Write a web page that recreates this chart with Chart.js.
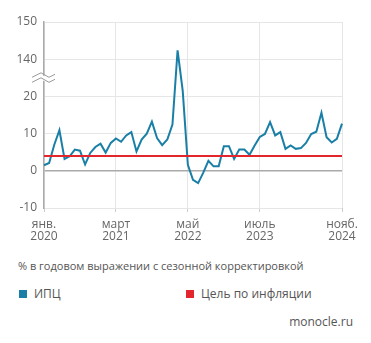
<!DOCTYPE html>
<html>
<head>
<meta charset="utf-8">
<script src="https://cdn.jsdelivr.net/npm/chart.js@4.4.1/dist/chart.umd.min.js"></script>
<style>
  body { margin: 0; background: #fff; font-family: "Open Sans", sans-serif; }
  #wrap { position: relative; width: 371px; height: 343px; }
  #chart-box { position: absolute; left: 0; top: 0; width: 371px; height: 252px; }
  .note { position: absolute; color: #555; font-size: 11px; white-space: nowrap; }
  .sq { display: inline-block; width: 8px; height: 8px; margin-right: 7px; vertical-align: 0px; }
</style>
</head>
<body>
<div id="wrap">
  <div id="chart-box"><canvas id="myChart"></canvas></div>
  <div class="note" style="left:18px; top:258px;">% в годовом выражении с сезонной корректировкой</div>
  <div class="note" style="left:19px; top:285px; font-size:12px;"><span class="sq" style="background:#1a7fa6"></span>ИПЦ</div>
  <div class="note" style="left:186px; top:285px; font-size:12px;"><span class="sq" style="background:#e3262b"></span>Цель по инфляции</div>
  <div class="note" style="right:18px; top:313px; font-size:12px;">monocle.ru</div>
</div>
<script>
// monthly, Jan 2020 .. Nov 2024
const months = ['янв.', 'февр.', 'март', 'апр.', 'май', 'июнь', 'июль', 'авг.', 'сент.', 'окт.', 'нояб.', 'дек.']
const years = [2020, 2021, 2022, 2023, 2024]
const labeledIdx = [0, 14, 28, 42, 58]

const cpi = [
  1.5, 2.1, 7.0, 10.9, 3.2, 3.9, 5.7, 5.4, 1.7, 4.8, 6.4, 7.3,
  4.9, 7.5, 8.7, 7.8, 9.5, 10.4, 5.2, 8.4, 10.0, 13.2, 8.8, 6.9,
  8.4, 12.4, 142.4, 21.5, 1.6, -2.4, -3.3, -0.5, 2.7, 1.2, 1.2, 6.6,
  6.6, 3.2, 5.7, 5.7, 4.3, 6.8, 9.1, 9.9, 13.1, 9.5, 10.4, 5.9,
  6.8, 5.9, 6.1, 7.5, 9.9, 10.5, 15.6, 9.0, 7.6, 8.6, 12.7
]
const target = 4
const yTicks = [-10, 0, 10, 20, 140, 150]

// broken axis: everything above the break is shifted down by 110
const breakAt = 25
const cut = 110
const toAxis = v => v > breakAt ? v - cut : v

const labels = []
years.forEach(y => months.forEach(m => labels.push([m, String(y)])))
labels.length = cpi.length

const breakMark = {
  id: 'breakMark',
  afterDraw(chart) {
    const ctx = chart.ctx
    const y = chart.scales.y.getPixelForValue(breakAt)
    const x = chart.chartArea.left
    ctx.save()
    ctx.fillStyle = '#fff'
    ctx.fillRect(x - 3, y - 2, 6, 5)
    ctx.strokeStyle = '#999'
    ctx.lineWidth = 1
    ;[-2.5, 2.5].forEach(d => {
      ctx.beginPath()
      ctx.moveTo(x - 12, y + d + 2)
      ctx.lineTo(x - 3, y + d - 2.5)
      ctx.lineTo(x + 5, y + d + 2)
      ctx.lineTo(x + 11, y + d - 1)
      ctx.stroke()
    })
    ctx.restore()
  }
}

const ctx = document.getElementById('myChart').getContext('2d')
const chart = new Chart(ctx, {
  type: 'line',
  data: {
    labels: labels,
    datasets: [{
      label: 'Цель по инфляции',
      data: cpi.map(() => target),
      borderColor: '#e3262b',
      borderWidth: 2,
      pointRadius: 0,
      order: 0
    }, {
      label: 'ИПЦ',
      data: cpi.map(toAxis),
      borderColor: '#1a7fa6',
      borderWidth: 2,
      pointRadius: 0,
      tension: 0,
      order: 1
    }]
  },
  plugins: [breakMark],
  options: {
    responsive: true,
    maintainAspectRatio: false,
    animation: false,
    layout: { padding: { left: 0, right: 29, top: 22, bottom: 0 } },
    plugins: { legend: { display: false }, tooltip: { enabled: false } },
    scales: {
      x: {
        offset: false,
        border: { display: false },
        grid: {
          color: c => labeledIdx.includes(c.index) ? '#e6e6e6' : 'rgba(0,0,0,0)',
          tickColor: c => labeledIdx.includes(c.index) ? '#ccc' : 'rgba(0,0,0,0)',
          tickLength: 4
        },
        ticks: {
          autoSkip: false,
          maxRotation: 0,
          color: '#666',
          font: { family: 'Open Sans', size: 12, lineHeight: 1.05 },
          padding: 6,
          callback: function(v, i) { return labeledIdx.includes(i) ? labels[i] : '' }
        },
        afterFit: s => { s.height = 44 }
      },
      y: {
        min: -10,
        max: 40,
        border: { color: '#aaa', width: 1.5 },
        grid: {
          color: c => c.tick.value === 0 ? '#aaa' : '#e6e6e6',
          lineWidth: c => c.tick.value === 0 ? 1.5 : 1,
          drawTicks: false
        },
        ticks: {
          stepSize: 10,
          color: '#666',
          padding: 7,
          font: { family: 'Open Sans', size: 12 },
          callback: v => yTicks[(v + 10) / 10]
        },
        afterFit: s => { s.width = 44 }
      }
    }
  }
})
</script>
</body>
</html>
